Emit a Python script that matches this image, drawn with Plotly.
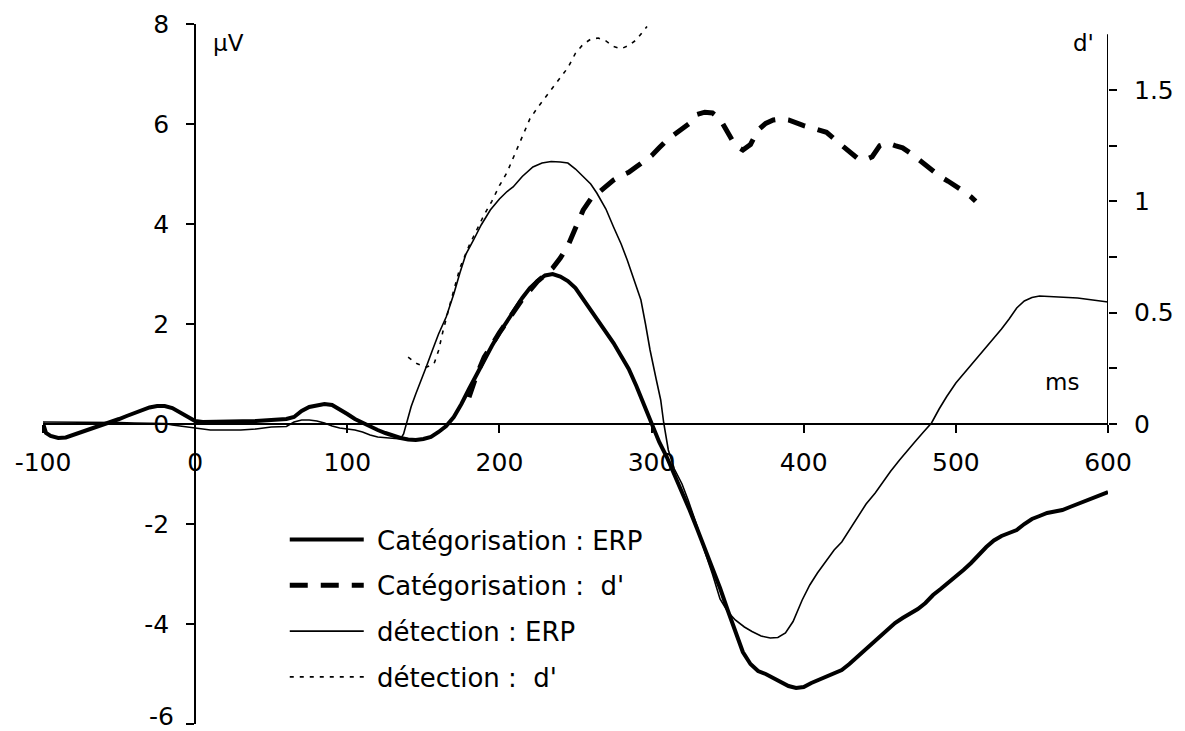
import plotly.graph_objects as go

# ---------------- data ----------------
cat_erp_t = [-100, -98, -95, -90, -85, -80, -75, -70, -65, -60, -55, -50, -45, -40, -35, -30, -25, -20, -15, -10, -5,
             0, 5, 10, 20, 30, 40, 50, 60, 65, 70, 75, 80, 85, 90, 95, 100, 105, 110, 115, 120, 125, 130, 135, 140,
             145, 150, 155, 160, 165, 170, 175, 180, 185, 190, 195, 200, 205, 210, 215, 220, 225, 230, 235, 240,
             245, 250, 255, 260, 265, 270, 275, 280, 285, 290, 295, 300, 305, 310, 315, 320, 325, 330, 335, 340,
             345, 350, 355, 360, 365, 370, 375, 380, 385, 390, 395, 400, 405, 410, 415, 420, 425, 430, 435, 440,
             445, 450, 455, 460, 465, 470, 475, 480, 485, 490, 495, 500, 505, 510, 515, 520, 525, 530, 535, 540,
             545, 550, 555, 560, 565, 570, 575, 580, 585, 590, 595, 600]
cat_erp_v = [0.02, -0.18, -0.24, -0.28, -0.27, -0.22, -0.16, -0.12, -0.06, 0.0, 0.04, 0.1, 0.16, 0.22, 0.28, 0.33, 0.36,
             0.36, 0.32, 0.24, 0.14,
             0.06, 0.04, 0.04, 0.04, 0.05, 0.06, 0.08, 0.1, 0.14, 0.26, 0.34, 0.38, 0.4, 0.38, 0.3, 0.2, 0.1, 0.02,
             -0.06, -0.12, -0.18, -0.24, -0.28, -0.31,
             -0.32, -0.3, -0.26, -0.16, -0.04, 0.14, 0.4, 0.7, 1.0, 1.3, 1.56, 1.82, 2.06, 2.3, 2.52, 2.72, 2.86,
             2.97, 3.0, 2.95,
             2.86, 2.72, 2.5, 2.3, 2.08, 1.85, 1.62, 1.36, 1.1, 0.76, 0.38, -0.02, -0.36, -0.66, -1.0, -1.38, -1.72,
             -2.1, -2.48, -2.86,
             -3.28, -3.72, -4.16, -4.56, -4.8, -4.94, -5.0, -5.08, -5.16, -5.24, -5.28, -5.26, -5.18, -5.12, -5.06,
             -4.98, -4.92, -4.8, -4.66, -4.52,
             -4.38, -4.24, -4.1, -3.98, -3.88, -3.8, -3.7, -3.58, -3.42, -3.3, -3.18, -3.05, -2.92, -2.78, -2.62,
             -2.46, -2.33, -2.24, -2.18, -2.12,
             -2.0, -1.9, -1.84, -1.78, -1.75, -1.72, -1.66, -1.6, -1.54, -1.47, -1.4, -1.36]

det_erp_t = [-100, -90, -80, -70, -60, -50, -40, -30, -20, -15, -10, -5, 0, 5, 10, 20, 30, 40, 50, 60, 65, 70, 75,
             80, 85, 90, 95, 100, 105, 110, 115, 120, 125, 130, 135, 137, 139, 142, 145, 148, 152, 156, 160, 165,
             170, 174, 178, 183, 188, 194, 200, 205, 209, 215, 222, 228, 234, 240, 245, 250, 255, 260, 264, 270,
             275, 280, 284, 289, 293, 296, 299, 303, 306, 308, 311, 315, 320, 324, 330, 335, 340, 345, 350, 355,
             361, 366, 372, 378, 383, 388, 393, 399, 404, 409, 415, 420, 425, 430, 436, 441, 447, 452, 457, 463,
             468, 473, 479, 484, 489, 494, 500, 505, 510, 515, 520, 525, 530, 535, 540, 545, 550, 555, 560, 570,
             580, 590, 600]
det_erp_v = [0.04, 0.04, 0.04, 0.03, 0.03, 0.03, 0.02, 0.02, 0.01, -0.02, -0.04, -0.06, -0.08, -0.1, -0.12, -0.12,
             -0.12, -0.1, -0.06, -0.05, 0.04, 0.08, 0.08,
             0.06, 0.02, -0.04, -0.08, -0.1, -0.12, -0.16, -0.22, -0.26, -0.27, -0.28, -0.3, -0.2, 0.02, 0.35, 0.6,
             0.82, 1.15, 1.48, 1.8, 2.14,
             2.6, 3.02, 3.4, 3.68, 3.98, 4.28, 4.5, 4.65, 4.74, 4.95, 5.14, 5.22, 5.25, 5.24, 5.22, 5.1, 4.94, 4.8,
             4.62, 4.3,
             3.94, 3.6, 3.28, 2.85, 2.48, 2.0, 1.48, 0.9, 0.48, 0.02, -0.52, -0.9, -1.2, -1.52, -2.05, -2.55, -3.0,
             -3.5, -3.75, -3.92,
             -4.06, -4.15, -4.24, -4.28, -4.27, -4.18, -3.95, -3.52, -3.22, -2.98, -2.72, -2.52, -2.36, -2.12, -1.82,
             -1.6, -1.38, -1.16, -0.95, -0.72,
             -0.55, -0.36, -0.15, 0.02, 0.3, 0.55, 0.82, 1.0, 1.18, 1.35, 1.52, 1.7, 1.9, 2.1, 2.32, 2.46, 2.53,
             2.56, 2.55, 2.54,
             2.52, 2.48, 2.44]

cat_d_t = [180, 185, 190, 195, 200, 205, 210, 215, 220, 225, 230, 235, 240, 245, 250, 255, 260, 265, 270, 275, 280,
           285, 290, 295, 300, 305, 310, 315, 320, 325, 330, 335, 340, 345, 350, 355, 360, 365, 370, 375, 380, 385,
           390, 395, 400, 405, 410, 415, 420, 425, 430, 435, 440, 445, 450, 455, 460, 465, 470, 475, 480, 485, 490,
           495, 500, 505, 510, 513]
cat_d_v = [0.12, 0.22, 0.3, 0.36, 0.41, 0.46, 0.51, 0.56, 0.6, 0.64, 0.67, 0.7, 0.745, 0.8, 0.88, 0.96, 1.01, 1.04,
           1.07, 1.095, 1.115,
           1.13, 1.155, 1.18, 1.205, 1.24, 1.275, 1.3, 1.325, 1.35, 1.39, 1.4, 1.397, 1.37, 1.31, 1.25, 1.23, 1.255,
           1.32, 1.35, 1.365, 1.37,
           1.365, 1.35, 1.34, 1.33, 1.32, 1.31, 1.28, 1.25, 1.22, 1.195, 1.185, 1.2, 1.25, 1.262, 1.25, 1.24, 1.217,
           1.19, 1.16, 1.13, 1.11,
           1.09, 1.07, 1.045, 1.02, 1.0]

det_d_t = [140, 146, 152, 157, 160, 163, 168, 174, 180, 185, 190, 195, 200, 205, 210, 215, 220, 225, 230, 235, 240,
           245, 250, 255, 260, 265, 270, 275, 280, 285, 290, 294, 297]
det_d_v = [0.3, 0.27, 0.255, 0.27, 0.33, 0.42, 0.55, 0.7, 0.8, 0.87, 0.94, 1.0, 1.07, 1.13, 1.21, 1.29, 1.37, 1.42,
           1.465, 1.51, 1.555,
           1.6, 1.665, 1.705, 1.728, 1.733, 1.72, 1.695, 1.685, 1.7, 1.725, 1.76, 1.785]

names = ["Catégorisation : ERP", "Catégorisation :  d'", "détection : ERP", "détection :  d'"]

x_ticks = [-100, 0, 100, 200, 300, 400, 500, 600]
x_ticktext = ["-100", "0", "100", "200", "300", "400", "500", "600"]
y_ticks = [-6, -4, -2, 0, 2, 4, 6, 8]
y_ticktext = ["-6", "-4", "-2", "0", "2", "4", "6", "8"]
y2_ticks = [0, 0.5, 1, 1.5]
y2_ticktext = ["0", "0.5", "1", "1.5"]
y2_minor = [0.25, 0.75, 1.25]

# ---------------- figure ----------------
FONT = "DejaVu Sans"
Y_RANGE = [-6, 8]
K = 50 / 222.7  # d' units per µV on the page
Y2_RANGE = [Y_RANGE[0] * K, Y_RANGE[1] * K]

fig = go.Figure()
fig.add_trace(go.Scatter(x=cat_erp_t, y=cat_erp_v, mode="lines", name="\u00a0" + names[0], legendgroup="a",
                         line=dict(color="black", width=4)))
fig.add_trace(go.Scatter(x=cat_d_t, y=cat_d_v, mode="lines", name="\u00a0" + names[1], legendgroup="b",
                         yaxis="y2", line=dict(color="black", width=5, dash="18px,13px")))
fig.add_trace(go.Scatter(x=det_erp_t, y=det_erp_v, mode="lines", name="\u00a0" + names[2], legendgroup="c",
                         line=dict(color="black", width=1.6)))
fig.add_trace(go.Scatter(x=det_d_t, y=det_d_v, mode="lines", name="\u00a0" + names[3], legendgroup="d",
                         yaxis="y2", line=dict(color="black", width=1.6, dash="4px,6px")))

fig.add_shape(type="line", xref="x", yref="y2", x0=600, x1=600, y0=0, y1=1.75,
              line=dict(color="black", width=2))

for txt, xx, yy in [("µV", 22, 7.62), ("d'", 584, 7.62), ("ms", 570, 0.84)]:
    fig.add_annotation(x=xx, y=yy, xref="x", yref="y", text=txt, showarrow=False,
                       font=dict(family=FONT, size=23, color="black"))

# lowest left tick label, nudged up a little so it stays inside the page
fig.add_annotation(x=0, y=y_ticks[0], xref="x", yref="y", text=y_ticktext[0], showarrow=False,
                   xanchor="right", yanchor="middle", xshift=-19, yshift=8,
                   font=dict(family=FONT, size=25, color="black"))
y_ticktext_shown = [""] + y_ticktext[1:]

tick_common = dict(ticks="outside", ticklen=8, tickwidth=1.5, tickcolor="black",
                   showgrid=False, zeroline=False)

fig.update_layout(
    width=1185, height=731,
    margin=dict(l=43, r=77, t=24, b=7, autoexpand=False),
    paper_bgcolor="white", plot_bgcolor="white",
    font=dict(family=FONT, size=25, color="black"),
    xaxis=dict(range=[-100, 600], anchor="free", position=6 / 14, tickvals=x_ticks, ticktext=x_ticktext,
               showline=True, linecolor="black", linewidth=2, ticklabelstandoff=8, **tick_common),
    yaxis=dict(range=Y_RANGE, anchor="free", position=1 / 7, tickvals=y_ticks, ticktext=y_ticktext_shown,
               showline=True, linecolor="black", linewidth=2, ticklabelstandoff=12, **tick_common),
    yaxis2=dict(range=Y2_RANGE, overlaying="y", side="right", anchor="x",
                tickvals=y2_ticks, ticktext=y2_ticktext,
                minor=dict(tickvals=y2_minor, ticks="outside", ticklen=8, tickwidth=1.5, tickcolor="black"),
                showline=False, ticklabelstandoff=12, **tick_common),
    showlegend=True,
    legend=dict(x=0.227, y=0.297, xanchor="left", yanchor="top", bgcolor="rgba(0,0,0,0)",
                font=dict(family=FONT, size=26, color="black"), itemwidth=74, tracegroupgap=9,
                traceorder="grouped"),
)

fig.write_html("out.html", config={"displayModeBar": False},
               post_script="document.body.style.margin='0';")
